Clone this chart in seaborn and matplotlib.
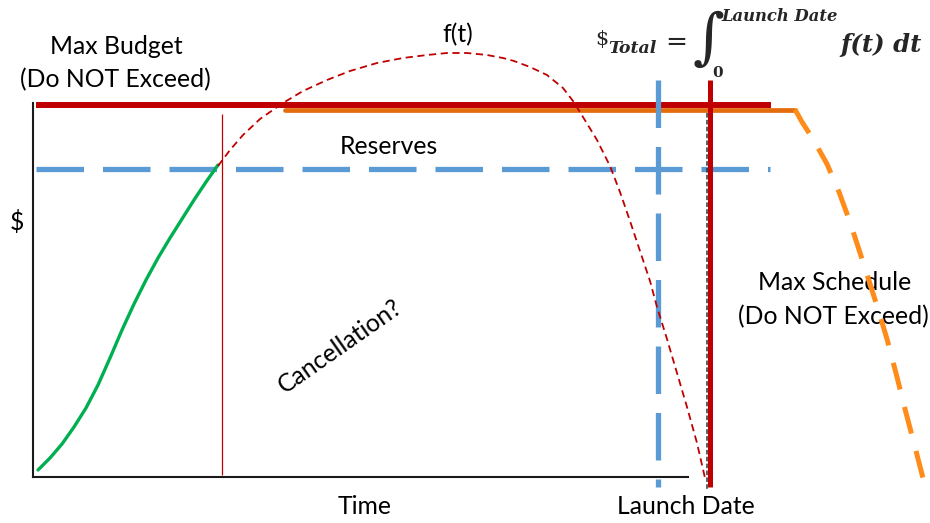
import matplotlib
matplotlib.use("Agg")
import matplotlib.pyplot as plt
import seaborn as sns

sns.set_theme(style="white")
plt.rcParams['font.family'] = ['Lato', 'DejaVu Sans']

# ---- data (t = time units, v = dollars) ----
green_t = [5, 17, 29, 41, 53, 65, 77, 89, 101, 113, 125, 137, 149, 161, 173, 185]
green_v = [7, 19, 33, 50, 69, 92, 119, 147, 173, 197, 219, 239, 258, 277, 295, 312]
f_t = [185, 197, 210, 227, 250, 270, 294, 317, 344, 370, 394, 414, 434, 454, 470, 481, 497,
       514, 530, 540, 550, 564, 577, 587, 597, 607, 617, 624, 634, 644, 654, 664, 672]
f_v = [311, 327, 342, 358, 374, 386, 397, 406, 414, 419, 422, 424, 424, 422, 419, 416, 410,
       402, 389, 376, 360, 337, 311, 285, 256, 226, 196, 170, 138, 104, 70, 34, -1]
sched_flat_t = [252, 762]
sched_flat_v = [367.5, 367.5]
sched_drop_t = [762, 769, 780, 794, 806, 817, 830, 845, 854, 864, 872, 882, 891]
sched_drop_v = [367.5, 355, 338, 313, 285, 255, 215, 168, 138, 100, 68, 30, -5]
budget = 371.7
reserves = 308.5
launch_date = 624.5
max_schedule = 677
cancel_t = 189

RED = "#C00000"
ORANGE = "#E46C0A"
ORANGE2 = "#FF8C1A"
BLUE = "#5B9BD5"
GREEN = "#00B050"

fig = plt.figure(figsize=(9.3, 5.23), dpi=100)
ax = fig.add_axes([0, 0, 1, 1])
ax.set_xlim(-33, 897)
ax.set_ylim(-46, 477)

for s in ["top", "right"]:
    ax.spines[s].set_visible(False)
ax.spines["left"].set_position(("data", 0))
ax.spines["bottom"].set_position(("data", 0))
ax.spines["left"].set_bounds(0, 374)
ax.spines["bottom"].set_bounds(0, 655)
for s in ["left", "bottom"]:
    ax.spines[s].set_color("#1a1a1a")
    ax.spines[s].set_linewidth(1.5)
ax.set_xticks([])
ax.set_yticks([])

# budget line
ax.hlines(budget, 3, 738, color=RED, lw=4.3, zorder=3)
# schedule (orange)
sns.lineplot(x=sched_flat_t, y=sched_flat_v, sort=False, estimator=None, color=ORANGE, lw=3.4, ax=ax, zorder=4)
sns.lineplot(x=sched_drop_t, y=sched_drop_v, sort=False, estimator=None, color=ORANGE2, lw=3.6, ax=ax,
             zorder=4).lines[-1].set_dashes([5.5, 3.6])
# reserves
ax.hlines(reserves, 3, 737, color=BLUE, lw=3.8, linestyles=(0, (9.0, 3.6)), zorder=3)
# launch date vertical (drawn top -> bottom)
sns.lineplot(x=[launch_date, launch_date], y=[397, -10], sort=False, estimator=None, color=BLUE, lw=3.8,
             ax=ax, zorder=5).lines[-1].set_dashes([9.0, 3.6])
# max schedule vertical (red) and dashed black
ax.vlines(max_schedule, -10, 397, color=RED, lw=3.6, zorder=6)
sns.lineplot(x=[max_schedule - 3, max_schedule - 3], y=[364, -13], sort=False, estimator=None,
             color="#333333", lw=1.1, ax=ax, zorder=7).lines[-1].set_dashes([3, 1.5])
# cancellation line
ax.vlines(cancel_t, 2, 363, color=RED, lw=0.9, zorder=3)
# green curve and f(t)
sns.lineplot(x=green_t, y=green_v, sort=False, estimator=None, color=GREEN, lw=2.4, ax=ax, zorder=6)
sns.lineplot(x=f_t, y=f_v, sort=False, estimator=None, color=RED, lw=1.3, ax=ax, zorder=6).lines[-1].set_dashes([4, 2.5])

fs = 17.8
tk = dict(ha="center", va="center", fontsize=fs, color="black")
ax.text(83, 430, "Max Budget", **tk)
ax.text(82.5, 397, "(Do NOT Exceed)", **tk)
ax.text(425, 442, "f(t)", **tk)
ax.text(356, 331, "Reserves", **tk)
ax.text(-16, 255, "$", **tk)
ax.text(332, -30, "Time", **tk)
ax.text(653, -30, "Launch Date", **tk)
ax.text(802, 194, "Max Schedule", **tk)
ax.text(800.5, 160, "(Do NOT Exceed)", **tk)
ax.text(307, 131, "Cancellation?", rotation=35, rotation_mode="anchor", **tk)

# formula
serif = "DejaVu Serif"
ax.text(562, 432, "$", fontsize=15, family=serif, ha="left", va="baseline")
ax.text(575, 424, "Total", fontsize=12.5, family=serif, weight="bold", style="italic", ha="left", va="baseline")
ax.text(643, 427, "=", fontsize=19, family=serif, ha="center", va="baseline")
ax.text(660, 420, "\u222b", fontsize=44, family=serif, ha="left", va="baseline")
ax.text(679, 400, "0", fontsize=11, family=serif, weight="bold", ha="left", va="baseline")
ax.text(688, 456, "Launch Date", fontsize=11.8, family=serif, weight="bold", style="italic", ha="left", va="baseline")
ax.text(807, 425, "f(t) dt", fontsize=17.5, family=serif, weight="bold", style="italic", ha="left", va="baseline")

fig.savefig("out.png", dpi=100)
